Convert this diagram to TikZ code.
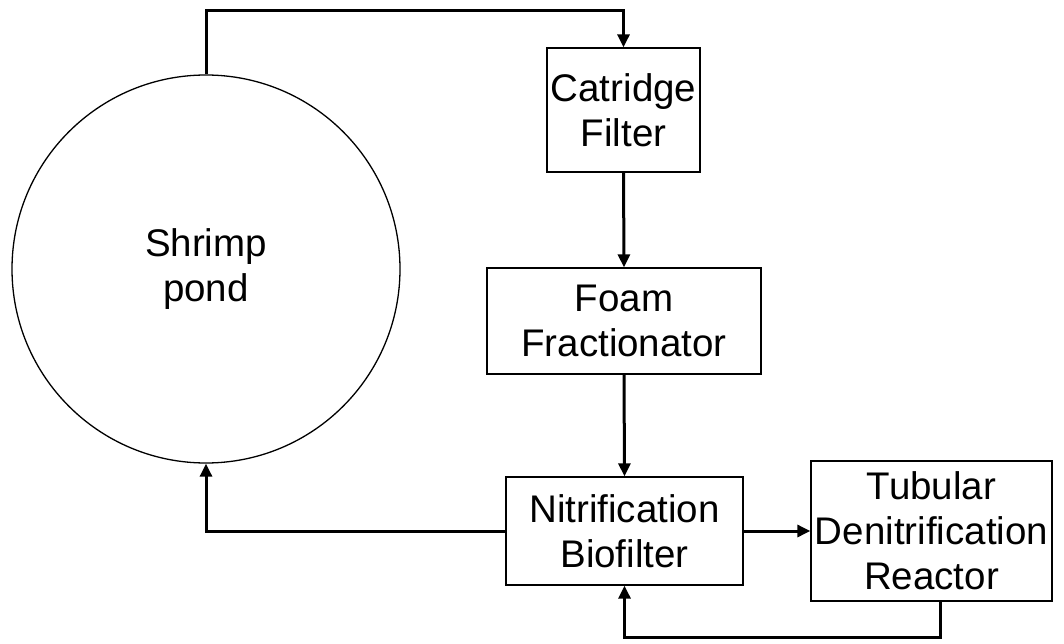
\documentclass[tikz,border=0pt]{standalone}
\usepackage{fontspec}
\setmainfont{Liberation Sans}
\usetikzlibrary{arrows.meta}

\tikzset{
  unit/.style={draw, line width=1.3pt, inner sep=0pt, align=center,
    font=\fontsize{38.5}{45}\selectfont},
  flow/.style={line width=3pt, -{Triangle[length=13pt,width=12pt]}}
}

\begin{document}
\begin{tikzpicture}[x=1pt,y=-1pt]
   \useasboundingbox (0,0) rectangle (1064,644);
   % pond and treatment units
   \node[unit, circle, minimum size=388pt] (pond) at (206,269) {Shrimp\\pond};
   \node[unit, minimum width=153pt, minimum height=124pt] (cat) at (623.5,110) {Catridge\\Filter};
   \node[unit, minimum width=274pt, minimum height=106pt] (foam) at (624,321) {Foam\\Fractionator};
   \node[unit, minimum width=237pt, minimum height=108pt] (nitri) at (624.5,531) {Nitrification\\Biofilter};
   \node[unit, minimum width=241pt, minimum height=140pt] (tub) at (931.5,531) {Tubular\\Denitrification\\Reactor};
   \coordinate (top) at (623.5,11);
   \coordinate (loop) at (624.5,637);
   % flow lines
   \draw[flow] (pond.north) |- (top) -- (cat.north);
   \draw[flow] (cat.south) -- (foam.north);
   \draw[flow] (foam.south) -- (nitri.north);
   \draw[flow] (nitri.east) -- (tub.west);
   \draw[flow] (nitri.west) -| (pond.south);
   \draw[flow] ([xshift=8.5pt]tub.south) |- (loop) -- (nitri.south);
\end{tikzpicture}
\end{document}
